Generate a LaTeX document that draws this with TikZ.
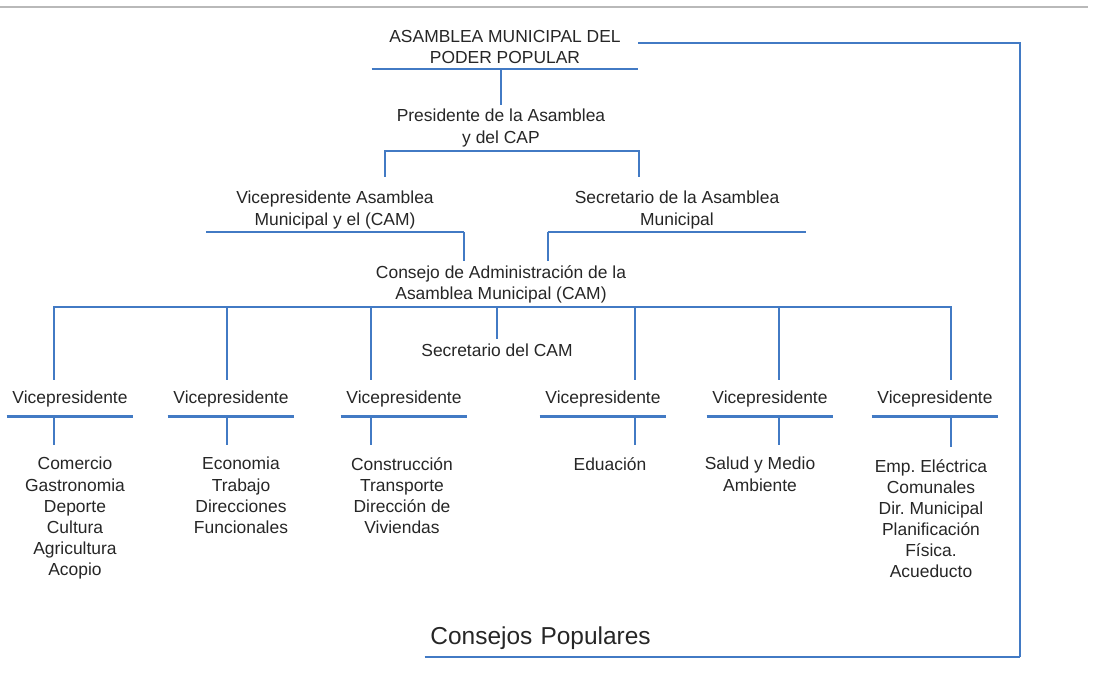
\documentclass[tikz,border=0pt]{standalone}
\usepackage{fontspec}
\setmainfont{Liberation Sans}
\frenchspacing
\definecolor{orgblue}{RGB}{66,122,196}
\definecolor{txtgray}{RGB}{38,38,38}
\newcommand\orgfont{\fontsize{12.4}{15}\selectfont}
\newcommand\bigfont{\fontsize{17.4}{20}\selectfont}
\begin{document}
\begin{tikzpicture}[
x=0.025cm, y=-0.025cm,
line/.style={
        draw=orgblue,
        line width=1.5pt,
    },
unit/.style={
        align=center,
        inner sep=0pt,
        text=txtgray,
        font=\orgfont,
        minimum width=3.15cm,
        minimum height=0.86cm,
        append after command={(\tikzlastnode.south west) edge[line] (\tikzlastnode.south east)},
    },
twoline/.style={unit, minimum height=1.1cm},
plain/.style={
        align=center,
        inner sep=0.1cm,
        text=txtgray,
        font=\orgfont,
    },
area/.style={plain, anchor=north, inner sep=0.3cm},
]
\useasboundingbox (0,0) rectangle (1100,682);
\draw[gray!55, line width=1.2pt] (0,7) -- (1088,7);

\node[twoline, minimum width=6.65cm] (title) at (505,47) {ASAMBLEA MUNICIPAL DEL\\PODER POPULAR};
\node[plain] (pres) at (501,128) {Presidente de la Asamblea\\y del CAP};
\node[twoline, minimum width=6.425cm] (viceA) at (335,210) {Vicepresidente Asamblea\\Municipal y el (CAM)};
\node[twoline, minimum width=6.45cm] (secA) at (677,210) {Secretario de la Asamblea\\Municipal};
\node[plain] (consejo) at (501,284) {Consejo de Administración de la\\Asamblea Municipal (CAM)};
\node[plain] (seccam) at (497,350) {Secretario del CAM};

% vicepresidentes
\node[unit] (vp1) at (70,399) {Vicepresidente};
\node[unit] (vp2) at (231,399) {Vicepresidente};
\node[unit] (vp3) at (404,399) {Vicepresidente};
\node[unit] (vp4) at (603,399) {Vicepresidente};
\node[unit] (vp5) at (770,399) {Vicepresidente};
\node[unit] (vp6) at (935,399) {Vicepresidente};

\node[area] (ar1) at (75,445) {Comercio\\Gastronomia\\Deporte\\Cultura\\Agricultura\\Acopio};
\node[area] (ar2) at (241,445) {Economia\\Trabajo\\Direcciones\\Funcionales};
\node[area] (ar3) at (402,445) {Construcción\\Transporte\\Dirección de\\Viviendas};
\node[area] (ar4) at (610,445) {Eduación};
\node[area] (ar5) at (760,445) {Salud y Medio\\Ambiente};
\node[area] (ar6) at (931,447) {Emp. Eléctrica\\Comunales\\Dir. Municipal\\Planificación\\Física.\\Acueducto};

\node[unit, font=\bigfont, minimum width=14.875cm, text width=14.6cm, align=left, minimum height=0.925cm] (cp) at (722.5,638.5) {Consejos Populares};

\draw[line] (title.south -| pres.north) -- (pres.north);
\draw[line] (cp.south east) |- ([yshift=0.1cm]title.east);

\coordinate (brL) at (385,177);
\coordinate (brR) at (639,177);
\draw[line] (brL) |- (pres.south) -| (brR);

\draw[line] (viceA.south east) -- (viceA.south east |- consejo.north);
\draw[line] (secA.south west) -- (secA.south west |- consejo.north);

% bus
\coordinate (b1) at (54,380);
\coordinate (b2) at (227,380);
\coordinate (b3) at (371,380);
\coordinate (b4) at (635,380);
\coordinate (b5) at (779,380);
\coordinate (b6) at (951,380);
\draw[line] (b1) |- (consejo.south) -| (b6);
\draw[line] (b2) -- (b2 |- consejo.south);
\draw[line] (b3) -- (b3 |- consejo.south);
\draw[line] (b4) -- (b4 |- consejo.south);
\draw[line] (b5) -- (b5 |- consejo.south);
\draw[line] (seccam.north |- consejo.south) -- (seccam.north);

\draw[line] (vp1.south -| b1) -- (b1 |- ar1.north);
\draw[line] (vp2.south -| b2) -- (b2 |- ar2.north);
\draw[line] (vp3.south -| b3) -- (b3 |- ar3.north);
\draw[line] (vp4.south -| b4) -- (b4 |- ar4.north);
\draw[line] (vp5.south -| b5) -- (b5 |- ar5.north);
\draw[line] (vp6.south -| b6) -- (b6 |- ar6.north);
\end{tikzpicture}
\end{document}
